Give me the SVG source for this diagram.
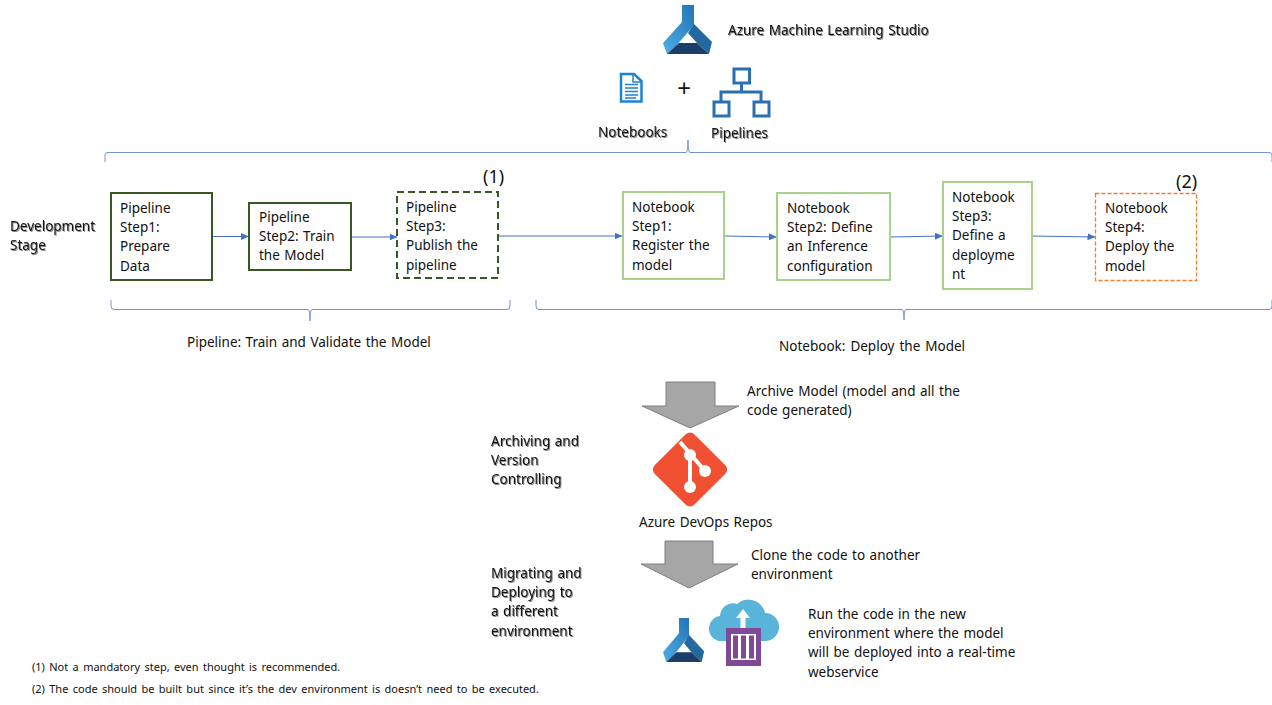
<svg xmlns="http://www.w3.org/2000/svg" xmlns:xlink="http://www.w3.org/1999/xlink" width="1272" height="705" viewBox="0 0 1272 705">
<style>
text{font-family:"Noto Sans","Open Sans","Liberation Sans",sans-serif;font-size:13.5px;word-spacing:1px;fill:#111}
.sh{filter:drop-shadow(1px 1px .6px #888)}
.fn{font-size:11px;word-spacing:1.5px}
.ref{font-size:18px}
.solid{fill:#fff;stroke:#385723;stroke-width:2}
.dash{fill:#fff;stroke:#385723;stroke-width:2;stroke-dasharray:7 4}
.green{fill:#fff;stroke:#a9d18e;stroke-width:2}
.orange{fill:#fff;stroke:#ed7d31;stroke-width:1.3;stroke-dasharray:4 2}
.c{fill:none;stroke:#4472c4;stroke-width:1;marker-end:url(#ah)}
.br{fill:none;stroke:#6f93d6;stroke-width:1}
.big{fill:#a6a6a6;stroke:#7f7f7f;stroke-width:1}
.ic{fill:#fff;stroke:#2a6fb0;stroke-width:3}
</style>
<defs>
<marker id="ah" markerWidth="9" markerHeight="8" refX="8" refY="3.5" orient="auto" markerUnits="userSpaceOnUse"><path d="M0 0L8 3.5L0 7Z" fill="#4472c4"/></marker>
<linearGradient id="fl" x1="0" y1="1" x2="1" y2="0"><stop offset="0" stop-color="#50aee6"/><stop offset="1" stop-color="#2374b4"/></linearGradient>
<g id="flask">
<path d="M682 5H694V25L676 46L667 54L663 43L682 22Z" fill="url(#fl)"/>
<path d="M694 24L712 42L709 54L697 43L688 33Z" fill="#2468a0"/>
<path d="M679 43H697L709 54H667Z" fill="#1b3f68"/>
</g>
</defs>
<rect width="1272" height="705" fill="#fff"/>

<g id="connectors">
<path class="c" d="M213 236.500H249"/>
<path class="c" d="M352 237H397.500"/>
<path class="c" d="M498 236H622.500"/>
<path class="c" d="M724 236L777 237"/>
<path class="c" d="M890 237L943 236"/>
<path class="c" d="M1032 236L1095.500 237"/>
<path class="br" d="M105 162V155Q105 152.500 108 152.500H686Q688 152.500 688 140Q688 152.500 690 152.500H1269Q1272 152.500 1272 155V162"/>
<path class="br" d="M111 300V306Q111 309.500 114 309.500H308Q310 309.500 310 321Q310 309.500 312 309.500H507Q510 309.500 510 306V300"/>
<path class="br" d="M536 300V306Q536 309.500 539 309.500H902Q904 309.500 904 320Q904 309.500 906 309.500H1269Q1272 309.500 1272 306V300"/>
</g>

<g id="azure-ml">
<use xlink:href="#flask"/>
<text class="sh" x="728" y="35">Azure Machine Learning Studio</text>
</g>
<g id="notebooks">
<path d="M621 74H634L641.500 81V101.500H621Z" fill="#fff" stroke="#1c83d4" stroke-width="2.500"/>
<path d="M633 74V82H641.500M625 84.500H638M625 88H638M625 91.500H638M625 95H638M625 98H636" fill="none" stroke="#1c83d4" stroke-width="1.500"/>
<text class="sh" x="598" y="137">Notebooks</text>
</g>
<g id="plus"><text x="684" y="97" text-anchor="middle" style="font-size:24px;font-weight:400">+</text></g>
<g id="pipelines">
<path d="M741.500 83V92M721 102V92H761V102" fill="none" stroke="#2a6fb0" stroke-width="3"/>
<rect class="ic" x="734" y="69" width="15.500" height="14"/>
<rect class="ic" x="714" y="102" width="15" height="14"/>
<rect class="ic" x="754" y="102" width="15" height="14"/>
<text class="sh" x="711" y="138">Pipelines</text>
</g>
<g id="development-stage"><text class="sh" x="10" y="231">Development</text><text class="sh" x="10" y="250">Stage</text></g>

<g id="pipeline-step1"><rect class="solid" x="111" y="193" width="101" height="87"/>
<text x="120" y="213">Pipeline</text><text x="120" y="232">Step1:</text><text x="120" y="251">Prepare</text><text x="120" y="271">Data</text></g>
<g id="pipeline-step2"><rect class="solid" x="249" y="203" width="102" height="67"/>
<text x="259" y="222">Pipeline</text><text x="259" y="241">Step2: Train</text><text x="259" y="260">the Model</text></g>
<g id="pipeline-step3"><rect class="dash" x="397" y="192" width="101" height="86"/>
<text x="406" y="212">Pipeline</text><text x="406" y="231">Step3:</text><text x="406" y="250">Publish the</text><text x="406" y="270">pipeline</text>
<text class="ref" x="483" y="183">(1)</text></g>
<g id="notebook-step1"><rect class="green" x="623" y="192" width="101" height="87"/>
<text x="632" y="212">Notebook</text><text x="632" y="231">Step1:</text><text x="632" y="250">Register the</text><text x="632" y="270">model</text></g>
<g id="notebook-step2"><rect class="green" x="777" y="193" width="113" height="87"/>
<text x="787" y="213">Notebook</text><text x="787" y="232">Step2: Define</text><text x="787" y="251">an Inference</text><text x="787" y="271">configuration</text></g>
<g id="notebook-step3"><rect class="green" x="943" y="182" width="89" height="107"/>
<text x="952" y="202">Notebook</text><text x="952" y="221">Step3:</text><text x="952" y="240">Define a</text><text x="952" y="260">deployme</text><text x="952" y="279">nt</text></g>
<g id="notebook-step4"><rect class="orange" x="1095.500" y="193.500" width="101" height="87"/>
<text x="1105" y="213">Notebook</text><text x="1105" y="232">Step4:</text><text x="1105" y="251">Deploy the</text><text x="1105" y="271">model</text>
<text class="ref" x="1176" y="188">(2)</text></g>

<g id="pipeline-label"><text x="187" y="347">Pipeline: Train and Validate the Model</text></g>
<g id="notebook-label"><text x="779" y="351" style="word-spacing:1.500px">Notebook: Deploy the Model</text></g>

<g id="archive-arrow"><path class="big" d="M666 382H715V406H739L690 428L642 406H666Z"/>
<text x="747" y="396">Archive Model (model and all the</text><text x="747" y="415">code generated)</text></g>
<g id="archiving-label"><text class="sh" x="491" y="446">Archiving and</text><text class="sh" x="491" y="465">Version</text><text class="sh" x="491" y="484">Controlling</text></g>
<g id="azure-devops-repos">
<rect x="662" y="441.500" width="56" height="56" rx="6" transform="rotate(45 690 469.500)" fill="#f05133"/>
<path d="M680 442L705 471M690 455V487" fill="none" stroke="#fff" stroke-width="4"/>
<circle cx="690" cy="455" r="6" fill="#fff"/><circle cx="705" cy="471" r="6" fill="#fff"/><circle cx="690" cy="487" r="6" fill="#fff"/>
<text x="639" y="527">Azure DevOps Repos</text></g>
<g id="clone-arrow"><path class="big" d="M665 541H713V564H738L689 588L641 564H665Z"/>
<text x="751" y="560">Clone the code to another</text><text x="751" y="579">environment</text></g>
<g id="migrating-label"><text class="sh" x="491" y="578">Migrating and</text><text class="sh" x="491" y="597">Deploying to</text><text class="sh" x="491" y="616">a different</text><text class="sh" x="491" y="636">environment</text></g>
<g id="target-environment">
<use xlink:href="#flask" transform="translate(663 618) scale(.84 .9) translate(-663 -5)"/>
<path d="M723 641A12 12 0 0 1 720 616A13 13 0 0 1 737 604A17 17 0 0 1 765 613A14 14 0 0 1 765 641Z" fill="#59b4d9"/>
<path d="M743 609L750 618H745.500V629H740.500V618H736Z" fill="#fff"/>
<rect x="726" y="628" width="35" height="38" fill="#804998"/>
<rect x="731" y="634" width="25" height="26" fill="#fff"/>
<path d="M733 635.500H738V658.500H733ZM741 635.500H746V658.500H741ZM749 635.500H754V658.500H749Z" fill="#804998"/>
<text x="808" y="619">Run the code in the new</text><text x="808" y="638">environment where the model</text><text x="808" y="657">will be deployed into a real-time</text><text x="808" y="677">webservice</text></g>
<g id="footnotes"><text class="fn" x="32" y="671">(1) Not a mandatory step, even thought is recommended.</text>
<text class="fn" x="32" y="693">(2) The code should be built but since it’s the dev environment is doesn’t need to be executed.</text></g>
</svg>
